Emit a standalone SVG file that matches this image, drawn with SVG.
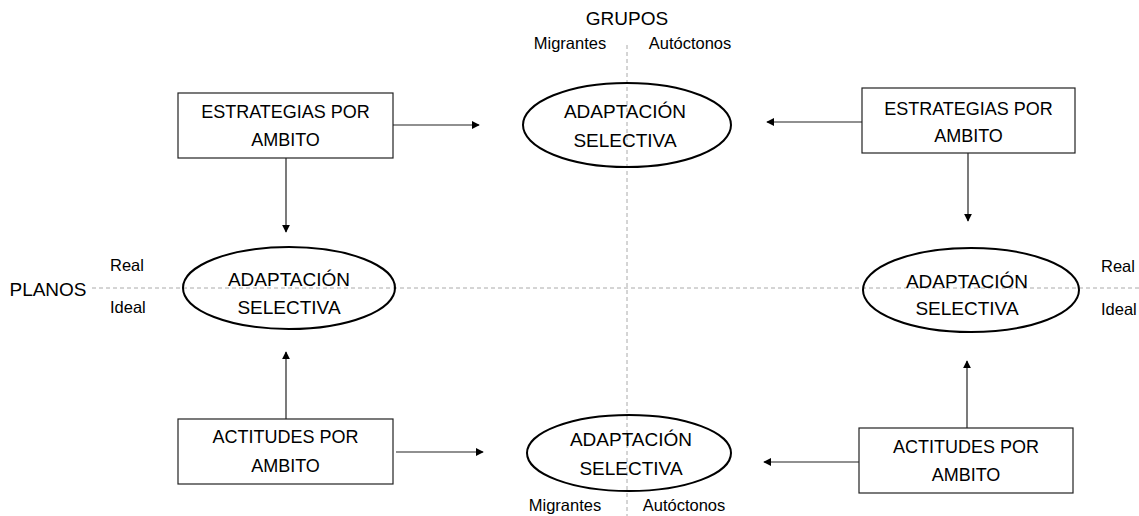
<svg xmlns="http://www.w3.org/2000/svg" width="1139" height="516" viewBox="0 0 1139 516">
<style>
text{font-family:"Liberation Sans",Arial,sans-serif;fill:#000;text-anchor:middle}
.big{font-size:19px}
.bx{font-size:18px}
.lbl{font-size:16.5px}
.st{font-size:19px}
.box{fill:#fff;stroke:#222;stroke-width:1.2}
.ell{fill:none;stroke:#000;stroke-width:2}
.axis{stroke:#aaa;stroke-width:1;stroke-dasharray:4 3;fill:none}
.con{stroke:#222;stroke-width:1.2;fill:none;marker-end:url(#ah)}
</style>
<defs>
<marker id="ah" viewBox="0 0 10 10" refX="9" refY="5" markerWidth="8" markerHeight="8" markerUnits="userSpaceOnUse" orient="auto">
<path d="M0,0 L10,5 L0,10 z" fill="#000"/>
</marker>
</defs>
<g id="axes">
<line class="axis" x1="627" y1="45" x2="627" y2="516"/>
<line class="axis" x1="92" y1="288" x2="1139" y2="288"/>
<text class="st" x="627" y="25">GRUPOS</text>
<text class="lbl" x="570" y="49">Migrantes</text>
<text class="lbl" x="690" y="49">Autóctonos</text>
<text class="lbl" x="565" y="511">Migrantes</text>
<text class="lbl" x="684" y="511">Autóctonos</text>
<text class="st" x="48" y="296">PLANOS</text>
<text class="lbl" x="110" y="271" style="text-anchor:start">Real</text>
<text class="lbl" x="110" y="313" style="text-anchor:start">Ideal</text>
<text class="lbl" x="1101" y="272" style="text-anchor:start">Real</text>
<text class="lbl" x="1101" y="315" style="text-anchor:start">Ideal</text>
</g>
<g id="connectors">
<line class="con" x1="393" y1="125" x2="479" y2="125"/>
<line class="con" x1="286" y1="158" x2="286" y2="232"/>
<line class="con" x1="862" y1="122" x2="767" y2="122"/>
<line class="con" x1="968" y1="153" x2="968" y2="221"/>
<line class="con" x1="286" y1="419" x2="286" y2="352"/>
<line class="con" x1="396" y1="452" x2="483" y2="452"/>
<line class="con" x1="859" y1="462" x2="764" y2="462"/>
<line class="con" x1="967" y1="428" x2="967" y2="361"/>
</g>
<g id="estrategias-left">
<rect class="box" x="178" y="93" width="215" height="65"/>
<text class="bx" x="285.5" y="118">ESTRATEGIAS POR</text>
<text class="bx" x="285.5" y="146">AMBITO</text>
</g>
<g id="estrategias-right">
<rect class="box" x="862" y="88" width="213" height="65"/>
<text class="bx" x="968.5" y="115">ESTRATEGIAS POR</text>
<text class="bx" x="968.5" y="142">AMBITO</text>
</g>
<g id="actitudes-left">
<rect class="box" x="178" y="419" width="215" height="65"/>
<text class="bx" x="285.5" y="443">ACTITUDES POR</text>
<text class="bx" x="285.5" y="472">AMBITO</text>
</g>
<g id="actitudes-right">
<rect class="box" x="859" y="428" width="214" height="65"/>
<text class="bx" x="966" y="453">ACTITUDES POR</text>
<text class="bx" x="966" y="481">AMBITO</text>
</g>
<g id="adaptacion-top">
<ellipse class="ell" cx="627" cy="125" rx="104" ry="42"/>
<text class="big" x="625" y="118">ADAPTACIÓN</text>
<text class="big" x="625" y="147">SELECTIVA</text>
</g>
<g id="adaptacion-left">
<ellipse class="ell" cx="289" cy="288" rx="106" ry="41"/>
<text class="big" x="289" y="286">ADAPTACIÓN</text>
<text class="big" x="289" y="314">SELECTIVA</text>
</g>
<g id="adaptacion-right">
<ellipse class="ell" cx="971" cy="290" rx="108" ry="42"/>
<text class="big" x="967" y="288">ADAPTACIÓN</text>
<text class="big" x="967" y="315">SELECTIVA</text>
</g>
<g id="adaptacion-bottom">
<ellipse class="ell" cx="629" cy="453" rx="102" ry="38"/>
<text class="big" x="631" y="446">ADAPTACIÓN</text>
<text class="big" x="631" y="475">SELECTIVA</text>
</g>
</svg>
